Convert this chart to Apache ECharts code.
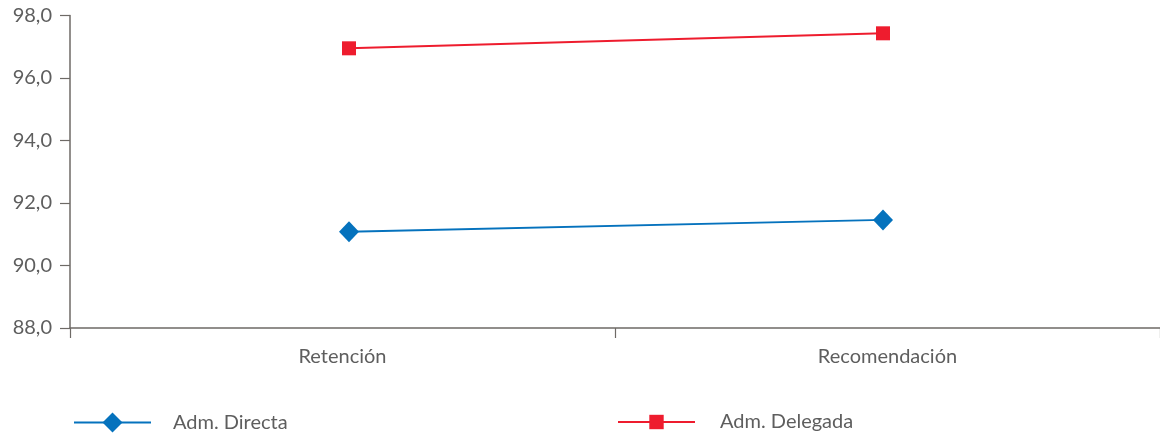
<!DOCTYPE html>
<html>
<head>
<meta charset="utf-8">
<script src="https://cdn.jsdelivr.net/npm/echarts@6/dist/echarts.min.js"></script>
<style>
  html, body { margin: 0; padding: 0; background: #ffffff; }
  #chart { width: 1160px; height: 438px; }
</style>
</head>
<body>
<div id="chart"></div>
<script>
// Categories and survey indices (%)
const categories = ['Retención', 'Recomendación'];
const admDirecta = [91.08, 91.46];
const admDelegada = [96.95, 97.43];
const yTicks = { min: 88, max: 98, interval: 2 };

const axisGray = '#6e6a66';
const textGray = '#5e5e5e';
const blue = '#0572bd';
const red = '#ee1c2e';
const font = 'Lato';
const fontSize = 20;

const chart = echarts.init(document.getElementById('chart'), null, { renderer: 'canvas' });

const fmt = v => v.toFixed(1).replace('.', ',');

chart.setOption({
  animation: false,
  textStyle: { fontFamily: font },
  grid: [
    { left: 70, right: 0, top: 15.5, bottom: 110 },
    { left: 82, right: 10, top: 15.5, bottom: 110 }
  ],
  xAxis: [
    {
      gridIndex: 0, type: 'category', data: categories, boundaryGap: true,
      axisLine: { lineStyle: { color: axisGray, width: 1.5 } },
      axisTick: { show: true, length: 10, lineStyle: { color: axisGray, width: 1.2 } },
      axisLabel: { color: textGray, fontSize: fontSize, margin: 19, fontFamily: font }
    },
    {
      gridIndex: 1, type: 'category', data: categories, boundaryGap: true,
      show: false
    }
  ],
  yAxis: [
    {
      gridIndex: 0, type: 'value', min: yTicks.min, max: yTicks.max, interval: yTicks.interval,
      axisLine: { show: true, lineStyle: { color: axisGray, width: 1.5 } },
      axisTick: { show: true, length: 10, lineStyle: { color: axisGray, width: 1.2 } },
      splitLine: { show: false },
      axisLabel: { color: textGray, fontSize: fontSize, margin: 18, formatter: fmt, fontFamily: font }
    },
    {
      gridIndex: 1, type: 'value', min: yTicks.min, max: yTicks.max, interval: yTicks.interval,
      show: false, splitLine: { show: false }
    }
  ],
  legend: [
    {
      left: 73, top: 412.5, padding: 0, itemWidth: 77, itemHeight: 25, itemGap: 0,
      data: ['Adm. Directa'],
      textStyle: { color: textGray, fontSize: fontSize, fontFamily: font, padding: [0, 0, 0, 17] }
    },
    {
      left: 617, top: 412, padding: 0, itemWidth: 77, itemHeight: 18, itemGap: 0,
      data: ['Adm. Delegada'],
      textStyle: { color: textGray, fontSize: fontSize, fontFamily: font, padding: [0, 0, 0, 20] }
    }
  ],
  series: [
    {
      name: 'Adm. Directa', type: 'line', xAxisIndex: 1, yAxisIndex: 1,
      data: admDirecta,
      symbol: 'diamond', symbolSize: [20, 21],
      lineStyle: { color: blue, width: 2 },
      itemStyle: { color: blue }
    },
    {
      name: 'Adm. Delegada', type: 'line', xAxisIndex: 1, yAxisIndex: 1,
      data: admDelegada,
      symbol: 'rect', symbolSize: 14,
      lineStyle: { color: red, width: 2 },
      itemStyle: { color: red }
    }
  ]
});
</script>
</body>
</html>
